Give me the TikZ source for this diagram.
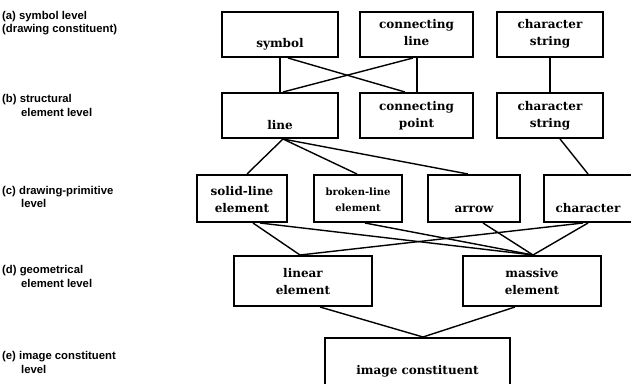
\documentclass[tikz,border=0pt]{standalone}
\usepackage{fontspec}
\newfontfamily\labfont{Liberation Sans}
\newfontfamily\boxfont{DejaVu Serif}
\begin{document}
\begin{tikzpicture}[x=1pt,y=-1pt,
  box/.style={draw, line width=2pt, inner sep=0pt},
  conn/.style={line width=1.4pt},
  lab/.style={anchor=base west, inner sep=0pt, font=\labfont\bfseries\fontsize{11.3}{13}\selectfont},
  btext/.style={anchor=base, inner sep=0pt, font=\boxfont\bfseries\fontsize{12}{14}\selectfont},
  stext/.style={anchor=base, inner sep=0pt, font=\boxfont\bfseries\fontsize{10}{12}\selectfont},
]
\useasboundingbox (0,0) rectangle (631,383);
\clip (0,0) rectangle (631,383);
% level labels
\node[lab] (la1) at (2,19) {(a) symbol level};
\node[lab] (la2) at (2,32) {(drawing constituent)};
\node[lab] (lb1) at (2,102) {(b) structural};
\node[lab] (lb2) at (21,116) {element level};
\node[lab] (lc1) at (2,194) {(c) drawing-primitive};
\node[lab] (lc2) at (21,207) {level};
\node[lab] (ld1) at (2,273) {(d) geometrical};
\node[lab] (ld2) at (21,287) {element level};
\node[lab] (le1) at (2,359) {(e) image constituent};
\node[lab] (le2) at (21,373) {level};
% row a
\node[box, minimum width=116pt, minimum height=45pt] (sym) at (280,34.5) {};
\node[box, minimum width=113pt, minimum height=45pt] (cline) at (416.5,34.5) {};
\node[box, minimum width=106pt, minimum height=45pt] (cstr) at (550,34.5) {};
\node[btext] (symt) at (280,47) {symbol};
\node[btext] (clinet1) at (416.5,28) {connecting};
\node[btext] (clinet2) at (416.5,45) {line};
\node[btext] (cstrt1) at (550,28) {character};
\node[btext] (cstrt2) at (550,45) {string};
% row b
\node[box, minimum width=116pt, minimum height=45pt] (line) at (280,115.5) {};
\node[box, minimum width=113pt, minimum height=45pt] (cpoint) at (416.5,115.5) {};
\node[box, minimum width=106pt, minimum height=45pt] (cstrb) at (550,115.5) {};
\node[btext] (linet) at (280,129) {line};
\node[btext] (cpointt1) at (416.5,110) {connecting};
\node[btext] (cpointt2) at (416.5,127) {point};
\node[btext] (cstrbt1) at (550,110) {character};
\node[btext] (cstrbt2) at (550,127) {string};
% row c
\node[box, minimum width=90pt, minimum height=47pt] (solid) at (242,198.5) {};
\node[box, minimum width=88pt, minimum height=47pt] (broken) at (358,198.5) {};
\node[box, minimum width=92pt, minimum height=47pt] (arrow) at (474,198.5) {};
\node[box, minimum width=88pt, minimum height=47pt] (char) at (588,198.5) {};
\node[btext] (solidt1) at (242,195) {solid-line};
\node[btext] (solidt2) at (242,212) {element};
\node[stext] (brokent1) at (358,195) {broken-line};
\node[stext] (brokent2) at (358,211) {element};
\node[btext] (arrowt) at (474,212) {arrow};
\node[btext] (chart) at (588,212) {character};
% row d
\node[box, minimum width=138pt, minimum height=50pt] (linear) at (303,281) {};
\node[box, minimum width=138pt, minimum height=50pt] (massive) at (532,281) {};
\node[btext] (lineart1) at (303,277) {linear};
\node[btext] (lineart2) at (303,294) {element};
\node[btext] (massivet1) at (532,277) {massive};
\node[btext] (massivet2) at (532,294) {element};
% row e
\node[box, minimum width=185pt, minimum height=70pt] (image) at (417.5,373) {};
\node[btext] (imaget) at (417.5,374) {image constituent};
% connectors a-b
\draw[conn] (sym.south) -- (line.north);
\draw[conn] ([xshift=8pt]sym.south) -- ([xshift=-11.5pt]cpoint.north);
\draw[conn] ([xshift=-3.5pt]cline.south) -- ([xshift=3pt]line.north);
\draw[conn] ([xshift=0.5pt]cline.south) -- ([xshift=0.5pt]cpoint.north);
\draw[conn] (cstr.south) -- (cstrb.south |- cstrb.north);
% connectors b-c
\draw[conn] ([xshift=3pt]line.south) -- ([xshift=5pt]solid.north);
\draw[conn] ([xshift=3pt]line.south) -- ([xshift=-1pt]broken.north);
\draw[conn] ([xshift=3pt]line.south) -- ([xshift=-6pt]arrow.north);
\draw[conn] ([xshift=10pt]cstrb.south) -- (char.north);
% connectors c-d
\draw[conn] ([xshift=11pt]solid.south) -- ([xshift=-3pt]linear.north);
\draw[conn] ([xshift=18pt]solid.south) -- ([xshift=1pt]massive.north);
\draw[conn] ([xshift=7pt]broken.south) -- ([xshift=1pt]massive.north);
\draw[conn] ([xshift=9pt]arrow.south) -- ([xshift=1pt]massive.north);
\draw[conn] ([xshift=-5pt]char.south) -- ([xshift=-3pt]linear.north);
\draw[conn] (char.south) -- ([xshift=1pt]massive.north);
% connectors d-e
\draw[conn] ([xshift=17pt]linear.south) -- ([xshift=5.5pt]image.north);
\draw[conn] ([xshift=-17pt]massive.south) -- ([xshift=5.5pt]image.north);
\end{tikzpicture}
\end{document}
